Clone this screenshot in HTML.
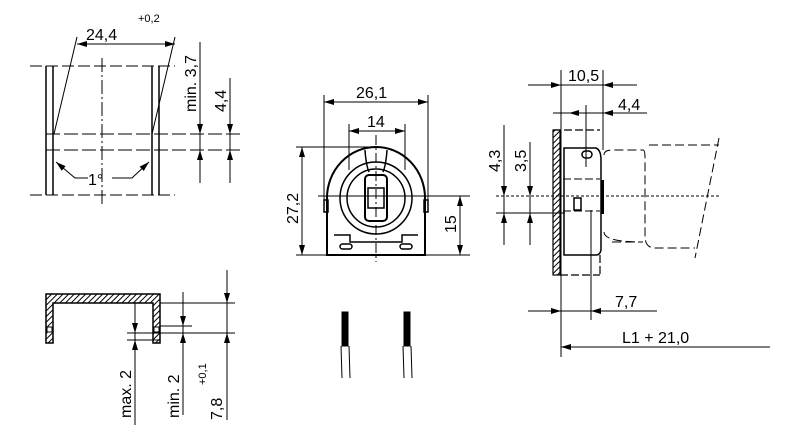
<!DOCTYPE html>
<html><head><meta charset="utf-8"><style>
html,body{margin:0;padding:0;background:#fff;width:800px;height:434px;overflow:hidden}
text{font-family:"Liberation Sans",sans-serif;fill:#000}
</style></head><body>
<svg width="800" height="434" viewBox="0 0 800 434" xmlns="http://www.w3.org/2000/svg">
<defs>
<pattern id="h" width="4" height="4" patternUnits="userSpaceOnUse" patternTransform="rotate(45)"><rect width="4" height="4" fill="#fff"/><line x1="0" y1="0" x2="0" y2="4" stroke="#000" stroke-width="2"/></pattern>
<marker id="a" viewBox="0 0 10 6" refX="10" refY="3" markerWidth="12" markerHeight="6" orient="auto-start-reverse" markerUnits="userSpaceOnUse"><path d="M0,0L10,3L0,6z" fill="#000"/></marker>
</defs>
<g stroke="#000" stroke-width="1" fill="none">
<line x1="46" y1="66" x2="46" y2="195" stroke-width="1.5"/><line x1="53" y1="66" x2="53" y2="195" stroke-width="1.5"/>
<line x1="152" y1="66" x2="152" y2="195" stroke-width="1.5"/><line x1="159" y1="66" x2="159" y2="195" stroke-width="1.5"/>
<line x1="30" y1="66" x2="175" y2="66" stroke-dasharray="12,4"/>
<line x1="30" y1="195" x2="175" y2="195" stroke-dasharray="12,4"/>
<line x1="46" y1="134" x2="240" y2="134" stroke-dasharray="14,4"/>
<line x1="46" y1="150" x2="240" y2="150" stroke-dasharray="14,4"/>
<line x1="102" y1="58" x2="102" y2="205" stroke-dasharray="14,3,2,3"/>
<line x1="77" y1="37" x2="54" y2="134"/><line x1="175" y1="37" x2="152" y2="134"/>
<line x1="77" y1="44" x2="175" y2="44" marker-start="url(#a)" marker-end="url(#a)"/>
<line x1="200" y1="42" x2="200" y2="183"/><line x1="230" y1="78" x2="230" y2="183"/>
<line x1="200" y1="118" x2="200" y2="134" marker-end="url(#a)"/><line x1="200" y1="167" x2="200" y2="150" marker-end="url(#a)"/>
<line x1="230" y1="118" x2="230" y2="134" marker-end="url(#a)"/><line x1="230" y1="167" x2="230" y2="150" marker-end="url(#a)"/>
<polyline points="88,178 75,178 56,162" marker-end="url(#a)"/><polyline points="112,178 132,178 149,162" marker-end="url(#a)"/>
<line x1="324" y1="95" x2="324" y2="200"/><line x1="428" y1="95" x2="428" y2="200"/>
<line x1="324" y1="102" x2="428" y2="102" marker-start="url(#a)" marker-end="url(#a)"/>
<line x1="349" y1="124" x2="349" y2="170"/><line x1="405" y1="124" x2="405" y2="170"/>
<line x1="349" y1="131" x2="405" y2="131" marker-start="url(#a)" marker-end="url(#a)"/>
<line x1="296" y1="147" x2="376" y2="147"/><line x1="296" y1="255" x2="470" y2="255"/>
<line x1="302" y1="147" x2="302" y2="255" marker-start="url(#a)" marker-end="url(#a)"/>
<line x1="460" y1="196" x2="460" y2="255" marker-start="url(#a)" marker-end="url(#a)"/>
<line x1="318" y1="196" x2="470" y2="196"/>
<line x1="376" y1="135" x2="376" y2="262" stroke-dasharray="10,3,2,3"/>
<path d="M327,255 L327,198 A49,51 0 0 1 425,198 L425,255 Z" stroke-width="2"/>
<circle cx="376" cy="198" r="36" stroke-width="1.5"/><circle cx="376" cy="198" r="29" stroke-width="1.5"/>
<path d="M365,150 Q366,165 369,172 M387,150 Q386,165 383,172" stroke-width="1.5"/>
<rect x="365" y="175" width="22" height="46" rx="4" stroke-width="2"/>
<rect x="368" y="188" width="16" height="20" stroke-width="1.5"/>
<path d="M334,235 L350,235 L350,242 L402,242 L402,235 L418,235" stroke-width="1.5"/>
<rect x="340" y="244" width="12" height="5" rx="2.5" stroke-width="1.5"/><rect x="400" y="244" width="12" height="5" rx="2.5" stroke-width="1.5"/>
<rect x="324" y="200" width="4" height="12" stroke-width="1.5"/><rect x="424" y="200" width="4" height="12" stroke-width="1.5"/>
<rect x="553" y="130" width="7" height="145" fill="url(#h)" stroke-width="1.2"/>
<line x1="561" y1="70" x2="561" y2="357"/><line x1="603" y1="70" x2="603" y2="150"/>
<line x1="528" y1="85" x2="637" y2="85"/>
<line x1="545" y1="85" x2="561" y2="85" marker-end="url(#a)"/><line x1="620" y1="85" x2="603" y2="85" marker-end="url(#a)"/>
<line x1="553" y1="113" x2="647" y2="113"/><line x1="569" y1="113" x2="586" y2="113" marker-start="url(#a)"/><line x1="620" y1="113" x2="603" y2="113" marker-end="url(#a)"/>
<line x1="586" y1="105" x2="586" y2="167"/>
<path d="M553,130 L600,130 M560,275 L600,275 M600,255 L600,275" stroke-dasharray="8,3" stroke-width="1.2"/>
<path d="M564,148 L596,148 Q601,150 601,160 L601,250 Q600,255 596,255 L564,255 Z" stroke-width="1.5"/>
<path d="M563,179 L600,179 M563,211 L600,211" stroke-dasharray="8,3"/>
<rect x="582" y="151" width="10" height="7" rx="3.5" stroke-width="1.5"/>
<rect x="601" y="180" width="3" height="34" fill="#000" stroke-width="0"/>
<rect x="574" y="198" width="7" height="12" stroke-width="1.5"/>
<path d="M604,155 Q604,150 612,150 L643,150 M649,145 L719,145 M612,242 L643,242 Q604,242 604,232 M643,150 Q645,150 645,158 L645,236 Q645,248 655,248 L695,248 M719,138 L695,258" stroke-dasharray="9,4"/>
<line x1="496" y1="196" x2="720" y2="196" stroke-dasharray="3,2"/>
<line x1="496" y1="213" x2="565" y2="213"/>
<line x1="504" y1="125" x2="504" y2="245"/><line x1="530" y1="142" x2="530" y2="245"/>
<line x1="504" y1="180" x2="504" y2="196" marker-end="url(#a)"/><line x1="504" y1="229" x2="504" y2="213" marker-end="url(#a)"/>
<line x1="530" y1="180" x2="530" y2="196" marker-end="url(#a)"/><line x1="530" y1="229" x2="530" y2="213" marker-end="url(#a)"/>
<line x1="591" y1="210" x2="591" y2="320"/>
<line x1="528" y1="311" x2="657" y2="311"/><line x1="545" y1="311" x2="561" y2="311" marker-end="url(#a)"/><line x1="608" y1="311" x2="591" y2="311" marker-end="url(#a)"/>
<line x1="561" y1="347" x2="770" y2="347" marker-start="url(#a)"/>
<path d="M46,294 L160,294 L160,343 L153,343 L153,303 L53,303 L53,343 L46,343 Z" fill="url(#h)" stroke-width="1.5"/>
<rect x="47" y="327" width="5" height="5" fill="#fff" stroke-width="1"/><rect x="154" y="327" width="5" height="5" fill="#fff" stroke-width="1"/>
<line x1="135" y1="303" x2="135" y2="425"/><line x1="183" y1="292" x2="183" y2="415"/><line x1="227" y1="270" x2="227" y2="420"/>
<line x1="160" y1="303" x2="235" y2="303"/><line x1="160" y1="326" x2="192" y2="326"/><line x1="127" y1="333" x2="235" y2="333"/><line x1="127" y1="340" x2="160" y2="340"/>
<line x1="135" y1="315" x2="135" y2="333" marker-end="url(#a)"/><line x1="135" y1="358" x2="135" y2="340" marker-end="url(#a)"/>
<line x1="183" y1="310" x2="183" y2="326" marker-end="url(#a)"/><line x1="183" y1="350" x2="183" y2="333" marker-end="url(#a)"/>
<line x1="227" y1="285" x2="227" y2="303" marker-end="url(#a)"/><line x1="227" y1="350" x2="227" y2="333" marker-end="url(#a)"/>
<rect x="342" y="312" width="6" height="34" fill="#000"/><rect x="404" y="312" width="6" height="34" fill="#000"/>
<path d="M341,346 L342,378 M349,346 L350,378 M403,346 L404,378 M411,346 L412,378" stroke-width="1"/>
</g>
<g font-size="16">
<text x="86" y="40">24,4</text><text x="138" y="22" font-size="11">+0,2</text>
<text x="88" y="185">1°</text>
<text transform="translate(196,112) rotate(-90)">min. 3,7</text>
<text transform="translate(226,112) rotate(-90)">4,4</text>
<text x="356" y="98">26,1</text><text x="367" y="127">14</text>
<text transform="translate(298,224) rotate(-90)">27,2</text>
<text transform="translate(456,233) rotate(-90)">15</text>
<text x="568" y="81">10,5</text><text x="618" y="110">4,4</text>
<text transform="translate(500,172) rotate(-90)">4,3</text>
<text transform="translate(526,172) rotate(-90)">3,5</text>
<text x="615" y="307">7,7</text><text x="622" y="343">L1 + 21,0</text>
<text transform="translate(131,418) rotate(-90)">max. 2</text>
<text transform="translate(179,418) rotate(-90)">min. 2</text>
<text transform="translate(222,420) rotate(-90)">7,8</text>
<text transform="translate(206,385) rotate(-90)" font-size="11">+0,1</text>
</g>
</svg>
</body></html>
